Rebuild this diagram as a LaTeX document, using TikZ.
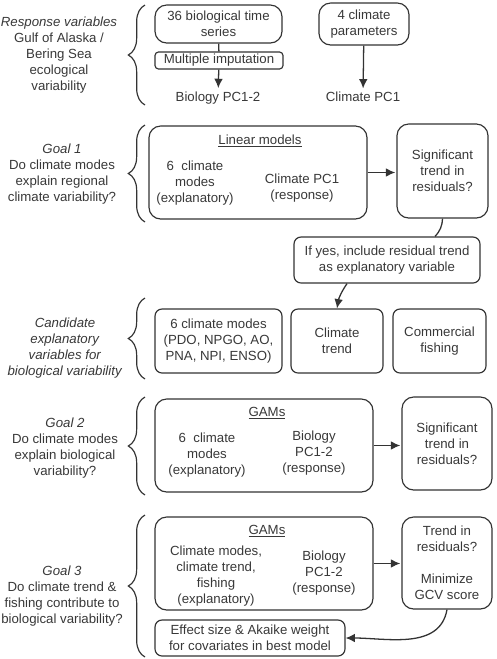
\documentclass[tikz,border=0pt]{standalone}
\usepackage{fontspec}
\setmainfont{Liberation Sans}
\usetikzlibrary{arrows.meta,positioning,decorations.pathreplacing}
\definecolor{DarkText}{HTML}{383838}
\definecolor{LineGray}{HTML}{333333}
\tikzset{
  box/.style={rounded corners=10pt, draw=LineGray, line width=1pt, text=DarkText, align=center, inner sep=1pt},
  smallbox/.style={rounded corners=6pt, draw=LineGray, line width=1pt, text=DarkText, align=center, inner sep=1pt},
  tinybox/.style={rounded corners=3pt, draw=LineGray, line width=1pt, text=DarkText, align=center, inner sep=1pt},
  lbl/.style={text=DarkText, align=center, inner sep=1pt},
  link/.style={line width=1.1pt, draw=LineGray},
  arr/.style={-{Latex[length=2.8mm,width=2.6mm]}, line width=1.1pt, draw=LineGray},
  brc/.style={decorate, decoration={brace, amplitude=0.5cm}, line width=1pt, draw=LineGray}
}

\begin{document}
\begin{tikzpicture}[x=0.03cm, y=-0.03cm, font=\fontsize{11.3}{13.6}\selectfont]
\useasboundingbox (0,0) rectangle (497,659);

% response variables
\node[lbl] (resp) at (59,55) {\textit{Response variables}\\Gulf of Alaska /\\Bering Sea\\ecological\\variability};
\draw[brc] (145,105) -- (145,5);
\node[box,minimum width=3.81cm,minimum height=1.14cm] (bio) at (218.5,24) {36 biological time\\series};
\node[tinybox,minimum width=3.84cm,minimum height=0.51cm] (imput) at (219,60.5) {Multiple imputation};
\node[lbl,inner sep=3pt] (biopc) at (218,98) {Biology PC1-2};
\node[box,minimum width=2.7cm,minimum height=1.26cm] (clim) at (364,24) {4 climate\\parameters};
\node[lbl,inner sep=3pt] (climpc) at (363,97) {Climate PC1};
\draw[link] (bio) -- (imput);
\draw[arr] (imput) -- (biopc);
\draw[arr] (clim) -- (climpc);

% goal 1
\node[lbl] (goal1) at (62,174) {\textit{Goal 1}\\Do climate modes\\explain regional\\climate variability?};
\draw[brc] (145,222) -- (145,125);
\node[box,minimum width=6.54cm,minimum height=2.79cm] (lin) at (258,172.5) {};
\node[lbl] (lintitle) at (260,141) {\underline{Linear models}};
\node[lbl] (linexp) at (195,183) {6~~climate\\modes\\(explanatory)};
\node[lbl] (linresp) at (302,188) {Climate PC1\\(response)};
\node[box,minimum width=2.73cm,minimum height=2.82cm] (sig1) at (442.5,171) {Significant\\trend in\\residuals?};
\draw[arr,shorten >=1pt] (lin.east) -- (lin.east -| sig1.west);
\node[smallbox,minimum width=5.58cm,minimum height=1.38cm] (ifyes) at (387,260) {If yes, include residual trend\\as explanatory variable};
\draw[link] (sig1.south) to[bend left=20] ([xshift=1.44cm]ifyes.north);

% candidate explanatory variables
\node[lbl] (cand) at (65,348) {\textit{Candidate}\\\textit{explanatory}\\\textit{variables for}\\\textit{biological variability}};
\draw[brc] (145,379) -- (145,298);
\node[smallbox,minimum width=3.81cm,minimum height=1.92cm] (modes) at (218.5,341) {6 climate modes\\(PDO, NPGO, AO,\\PNA, NPI, ENSO)};
\node[smallbox,minimum width=2.76cm,minimum height=1.92cm] (trend) at (337,341) {Climate\\trend};
\node[smallbox,minimum width=2.79cm,minimum height=1.92cm] (fish) at (439.5,341) {Commercial\\fishing};
\draw[arr] ([xshift=-1.2cm]ifyes.south) to[bend right=12] (trend.north);

% goal 2
\node[lbl] (goal2) at (65,448) {\textit{Goal 2}\\Do climate modes\\explain biological\\variability?};
\draw[brc] (145,495) -- (145,397);
\node[box,minimum width=6.54cm,minimum height=2.79cm] (gam2) at (264,445.5) {};
\node[lbl] (gam2title) at (267,413) {\underline{GAMs}};
\node[lbl] (gam2exp) at (207,455) {6~~climate\\modes\\(explanatory)};
\node[lbl] (gam2resp) at (314,453) {Biology\\PC1-2\\(response)};
\node[box,minimum width=2.7cm,minimum height=2.79cm] (sig2) at (447,443.5) {Significant\\trend in\\residuals?};
\draw[arr,shorten >=1pt] (gam2.east) -- (gam2.east -| sig2.west);

% goal 3
\node[lbl] (goal3) at (62,596) {\textit{Goal 3}\\Do climate trend \&\\fishing contribute to\\biological variability?};
\draw[brc] (145,657) -- (145,515);
\node[box,minimum width=6.54cm,minimum height=2.79cm] (gam3) at (264,563.5) {};
\node[lbl] (gam3title) at (267,531) {\underline{GAMs}};
\node[lbl] (gam3exp) at (216,576) {Climate modes,\\climate trend,\\fishing\\(explanatory)};
\node[lbl] (gam3resp) at (324,573) {Biology\\PC1-2\\(response)};
\node[box,minimum width=2.7cm,minimum height=2.76cm] (trendres) at (447,563) {Trend in\\residuals?\\[13.6pt]Minimize\\GCV score};
\draw[arr,shorten >=1pt] (gam3.east) -- (gam3.east -| trendres.west);
\node[smallbox,minimum width=5.7cm,minimum height=1.08cm] (effect) at (250,638) {Effect size \& Akaike weight\\for covariates in best model};
\draw[arr] (trendres.south) to[out=-100,in=0] (effect.east);
\end{tikzpicture}
\end{document}
